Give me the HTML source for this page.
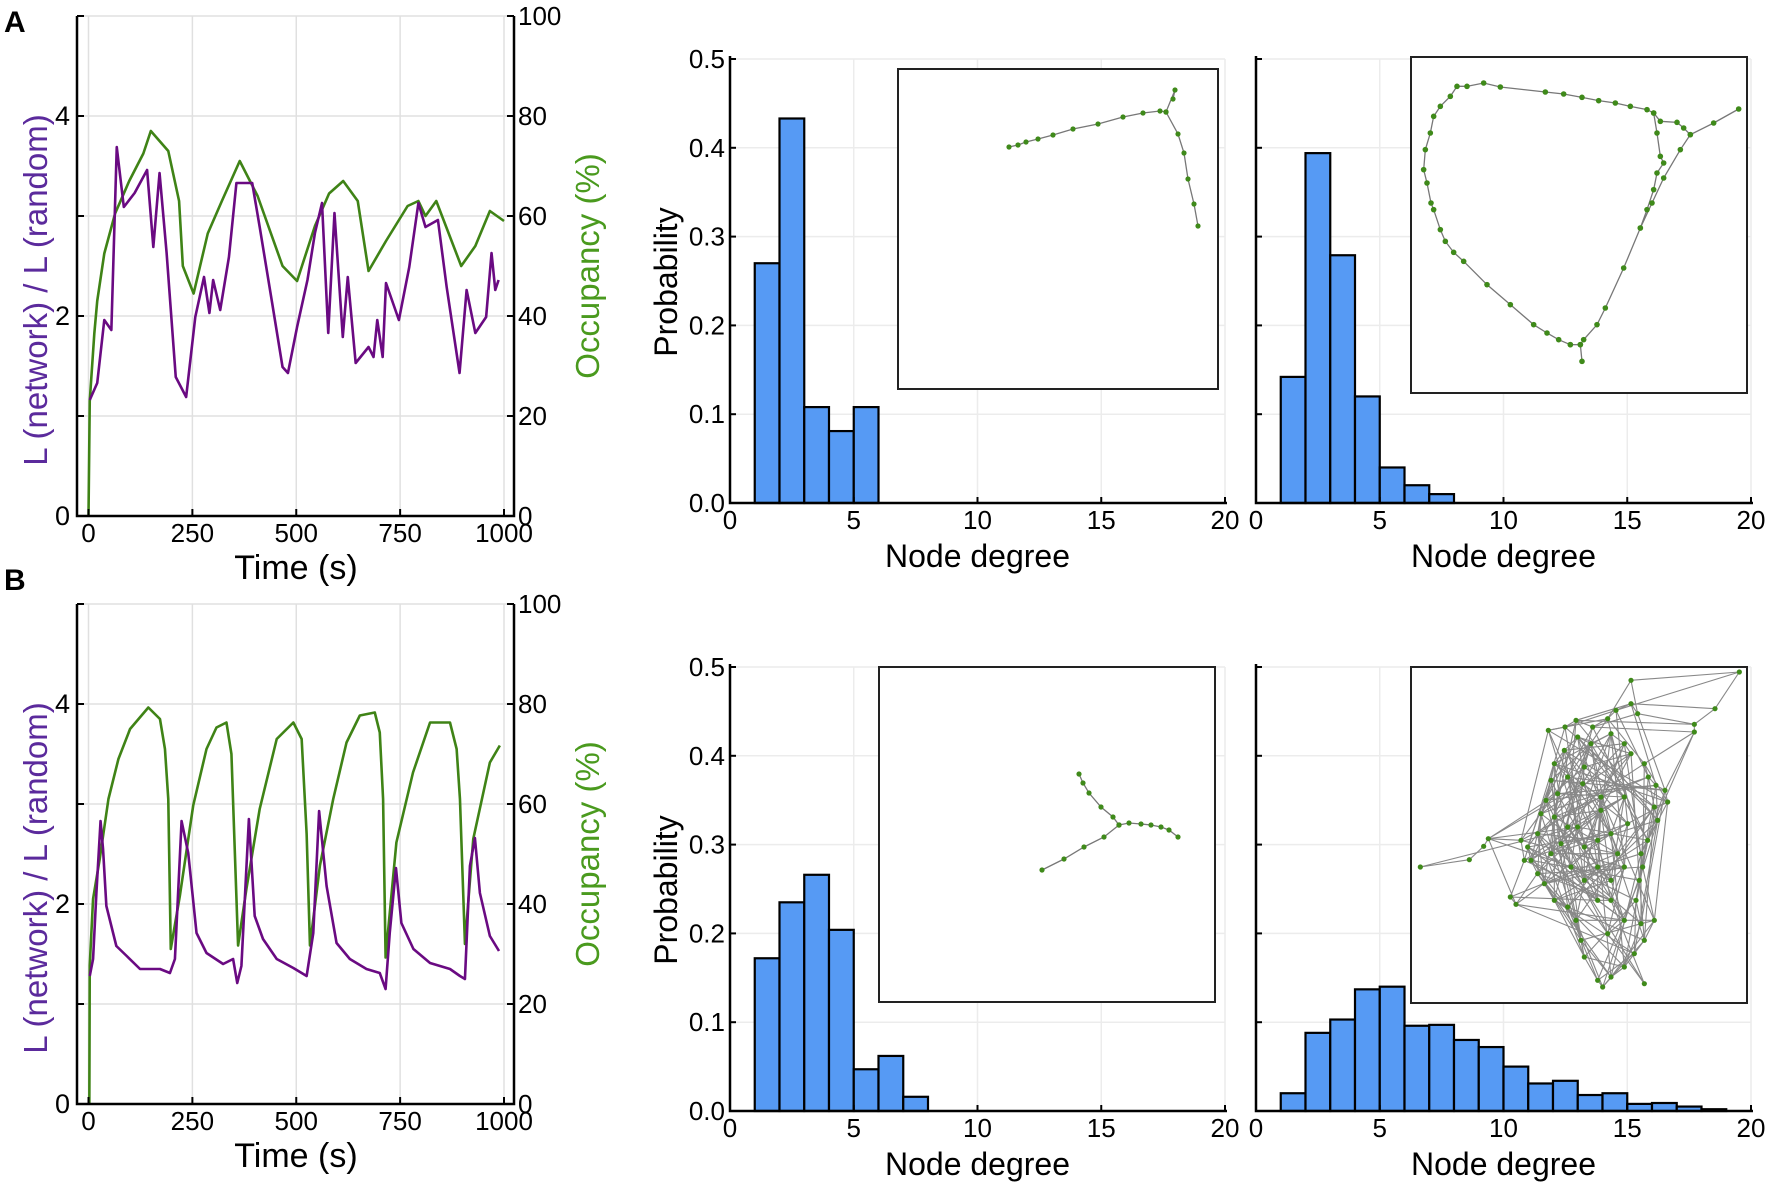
<!DOCTYPE html>
<html><head><meta charset="utf-8"><style>
html,body{margin:0;padding:0;background:#fff;}
svg{display:block;font-family:"Liberation Sans","DejaVu Sans",sans-serif;}
</style></head><body>
<svg id="fig" width="1772" height="1187" viewBox="0 0 1772 1187" xmlns="http://www.w3.org/2000/svg">
<text x="4" y="32" font-size="30" font-weight="bold">A</text>
<text x="4" y="590" font-size="30" font-weight="bold">B</text>
</svg>
<script>
// ---------- Time series data ----------
const timeA_purple = [3,21,38,55,68,85,111,141,156,171,188,210,235,257,278,291,300,317,338,356,394,412,442,467,480,502,527,545,562,577,592,612,624,643,674,686,695,708,716,747,772,794,811,841,862,893,910,931,957,970,979,987];
const valA_purple = [1.16,1.33,1.96,1.86,3.69,3.09,3.23,3.46,2.69,3.43,2.63,1.39,1.19,1.99,2.39,2.03,2.36,2.06,2.59,3.33,3.33,2.89,2.13,1.49,1.43,1.89,2.36,2.83,3.13,1.83,3.03,1.79,2.39,1.53,1.69,1.59,1.96,1.59,2.33,1.96,2.49,3.13,2.89,2.96,2.29,1.43,2.26,1.83,1.99,2.63,2.26,2.36];
const timeA_green = [0,3,14,21,38,64,98,132,150,192,218,227,253,287,321,364,407,467,502,545,579,613,648,674,716,768,794,811,837,897,931,966,1000];
const valA_green = [0,23,36.5,43,52.5,60.5,67,72.5,77,73,63,50,44.5,56.5,63,71,64,50,47,58,64.5,67,63,49,55,62,63,60,63,50,54,61,59];
const timeB_purple = [3,11,19,29,35,43,67,92,124,172,196,208,224,240,260,284,324,348,358,368,386,400,420,453,493,525,541,555,573,597,629,669,701,715,725,740,753,782,822,870,894,906,918,930,942,966,988];
const valB_purple = [1.28,1.45,2.11,2.83,2.55,1.98,1.58,1.48,1.35,1.35,1.31,1.45,2.83,2.51,1.71,1.51,1.40,1.45,1.21,1.38,2.85,1.88,1.65,1.45,1.36,1.28,1.71,2.93,2.18,1.61,1.45,1.35,1.31,1.15,1.71,2.36,1.81,1.55,1.41,1.35,1.28,1.25,2.38,2.66,2.11,1.68,1.53];
const timeB_green = [2,3,11,27,48,72,100,144,172,184,192,198,220,252,284,308,332,344,360,380,412,453,493,513,525,533,557,589,621,653,689,701,709,715,741,781,822,870,886,894,906,926,966,990];
const valB_green = [0,27.7,41,49,61,69,75,79.3,77,71,61,31,41.7,59.7,71,75.3,76.3,70,31.7,43,59,73,76.3,73,54,31.7,47.7,61,72.3,77.7,78.3,74.3,61,29.3,52.3,66.3,76.3,76.3,71,61,32,53,68.3,71.7];
const timeTicks = [0,250,500,750,1000];
const leftTicks = [0,2,4];
const rightTicks = [0,20,40,60,80,100];

// ---------- Histogram data ----------
const binStartsA1 = [1,2,3,4,5];
const probA1 = [0.27,0.433,0.108,0.081,0.108];
const binStartsA2 = [1,2,3,4,5,6,7];
const probA2 = [0.142,0.394,0.279,0.12,0.04,0.02,0.01];
const binStartsB1 = [1,2,3,4,5,6,7];
const probB1 = [0.172,0.235,0.266,0.204,0.047,0.062,0.016];
const binStartsB2 = [1,2,3,4,5,6,7,8,9,10,11,12,13,14,15,16,17,18];
const probB2 = [0.02,0.088,0.103,0.137,0.14,0.096,0.097,0.08,0.072,0.05,0.031,0.034,0.018,0.02,0.008,0.009,0.005,0.002];
const degTicks = [0,5,10,15,20];
const probTicks = [0.0,0.1,0.2,0.3,0.4,0.5];

const NS = "http://www.w3.org/2000/svg";
const svg = document.getElementById('fig');
function mk(tag, attrs, parent){
  const e = document.createElementNS(NS, tag);
  for (const k in attrs) e.setAttribute(k, attrs[k]);
  (parent||svg).appendChild(e);
  return e;
}

function timePlot(oy, tp, vp, tg, vg, key){
  const g = mk('g', {});
  
  
  const X = t => 88.5 + t * 0.4155;
  const YL = v => oy + 516 - v * 100;
  const YR = p => oy + 516 - p * 5;
  timeTicks.forEach(t => { const l = mk('line', {x1:X(t), x2:X(t), y1:oy+16, y2:oy+516, stroke:'#e0e0e0', 'stroke-width':1.5}, g);
      });
  rightTicks.forEach(p => { const l = mk('line', {x1:77, x2:514, y1:YR(p), y2:YR(p), stroke:'#e0e0e0', 'stroke-width':1.5}, g);
      });
  const gp = mk('polyline', {points: tg.map((t,i)=>X(t)+','+YR(vg[i])).join(' '), fill:'none', stroke:'#3f8316', 'stroke-width':2.6, 'stroke-linejoin':'round'}, g);
   
  const pp = mk('polyline', {points: tp.map((t,i)=>X(t)+','+YL(vp[i])).join(' '), fill:'none', stroke:'#6a0a82', 'stroke-width':2.6, 'stroke-linejoin':'round'}, g);
   
  const ax = mk('path', {d:`M77,${oy+16} V${oy+516} H514 V${oy+16}`, fill:'none', stroke:'#000', 'stroke-width':2.5}, g);
   
  timeTicks.forEach(t => {
    mk('line', {x1:X(t), x2:X(t), y1:oy+516, y2:oy+509, stroke:'#000', 'stroke-width':2}, g);
    const tx = mk('text', {x:X(t), y:oy+542, 'font-size':26, 'text-anchor':'middle'}, g);
    tx.textContent = t;
     
  });
  [0,1,2,3,4,5].forEach(v => mk('line', {x1:77, x2:84, y1:YL(v), y2:YL(v), stroke:'#000', 'stroke-width':2}, g));
  leftTicks.forEach(v => {
    const tx = mk('text', {x:70, y:YL(v)+9, 'font-size':27, 'text-anchor':'end'}, g);
    tx.textContent = v;
     
  });
  rightTicks.forEach(p => {
    mk('line', {x1:514, x2:507, y1:YR(p), y2:YR(p), stroke:'#000', 'stroke-width':2}, g);
    const tx = mk('text', {x:518, y:YR(p)+9, 'font-size':26}, g);
    tx.textContent = p;
     
  });
  const xl = mk('text', {x:296, y:oy+579, 'font-size':34, 'text-anchor':'middle'}, g);
  xl.textContent = 'Time (s)';
   
  const yl = mk('text', {x:0, y:0, 'font-size':33, 'text-anchor':'middle', fill:'#5b2a9c', transform:`translate(47,${oy+290}) rotate(-90)`}, g);
  yl.textContent = 'L (network) / L (random)';
   
  const yr = mk('text', {x:0, y:0, 'font-size':33, 'text-anchor':'middle', fill:'#4a9a1e', transform:`translate(599,${oy+266}) rotate(-90)`}, g);
  yr.textContent = 'Occupancy (%)';
   
}

function histPlot(x0, oy, bins, probs, showY, inset, key){
  const g = mk('g', {});
  
  
  const X = d => x0 + d * 24.75;
  const Y = p => oy + 503 - p * 888;
  degTicks.slice(1).forEach(d => mk('line', {x1:X(d), x2:X(d), y1:Y(0.5), y2:Y(0), stroke:'#ececec', 'stroke-width':1.5}, g));
  probTicks.slice(1).forEach(p => mk('line', {x1:x0, x2:X(20), y1:Y(p), y2:Y(p), stroke:'#ececec', 'stroke-width':1.5}, g));
  bins.forEach((b,i) => {
    const r = mk('rect', {x:X(b), y:Y(probs[i]), width:X(b+1)-X(b), height:Y(0)-Y(probs[i]), fill:'#569af4', stroke:'#000', 'stroke-width':2.2}, g);
    
    
  });
  const ax = mk('path', {d:`M${x0},${Y(0.5)-3} V${Y(0)} H${X(20)+2}`, fill:'none', stroke:'#000', 'stroke-width':2.5}, g);
   
  degTicks.forEach(d => {
    mk('line', {x1:X(d), x2:X(d), y1:Y(0), y2:Y(0)-6, stroke:'#000', 'stroke-width':2}, g);
    const tx = mk('text', {x:X(d), y:oy+529, 'font-size':26, 'text-anchor':'middle'}, g);
    tx.textContent = d;
     
  });
  probTicks.forEach(p => {
    mk('line', {x1:x0, x2:x0+6, y1:Y(p), y2:Y(p), stroke:'#000', 'stroke-width':2}, g);
    if (showY) {
      const tx = mk('text', {x:x0-5, y:Y(p)+9, 'font-size':26, 'text-anchor':'end'}, g);
      tx.textContent = p.toFixed(1);
       
    }
  });
  const xl = mk('text', {x:X(10), y:oy+567, 'font-size':32, 'text-anchor':'middle'}, g);
  xl.textContent = 'Node degree';
   
  if (showY) {
    const yl = mk('text', {x:0, y:0, 'font-size':32, 'text-anchor':'middle', transform:`translate(677,${oy+282}) rotate(-90)`}, g);
    yl.textContent = 'Probability';
     
  }
  const ig = mk('g', {}, g);
  
  
  const b = mk('rect', {x:inset.x, y:inset.y, width:inset.w, height:inset.h, fill:'#fff', stroke:'#222', 'stroke-width':2}, ig);
   
  inset.draw(ig, inset.x, inset.y);
}

function net(ig, ox, oy, paths, r, sc){
  paths.forEach(pts => {
    mk('polyline', {points: pts.map(p => (ox+p[0]*sc)+','+(oy+p[1]*sc)).join(' '), fill:'none', stroke:'#777', 'stroke-width':1.3}, ig);
  });
  paths.forEach(pts => pts.forEach(p => mk('circle', {cx:ox+p[0]*sc, cy:oy+p[1]*sc, r:r, fill:'#3f8a1a'}, ig)));
}

const netA1 = [
  [[111,78],[120,76],[128,73],[140,70],[155,66],[175,60],[200,55],[225,48],[245,44],[262,42],[268,43]],
  [[268,43],[277,21],[275,30]],
  [[268,43],[280,65],[286,84],[290,110],[296,135],[300,157]]
];
const netA2 = [
  [[983,156],[908,198],[838,233],[808,278],[758,363],[723,438],[688,513],[638,633],[583,753],[558,803],[518,848],[508,863],[513,913]],
  [[478,863],[443,848],[408,828],[368,803],[298,743],[228,683],[158,613],[128,586],[103,553],[88,518],[68,458],[60,438],[48,378],[38,338],[43,278],[58,228],[68,178],[88,148],[118,118],[138,88],[168,88],[218,78],[268,90],[403,105],[458,111],[513,121],[563,131],[613,138],[658,148],[708,158],[728,168],[748,193],[798,196],[818,213],[838,233]],
  [[728,168],[738,228],[748,298],[758,318],[738,348],[728,398],[708,458],[688,513]],
  [[508,863],[478,863]]
];
const netB1 = [
  [[200,107],[204,116],[210,126],[222,140],[234,150],[240,158]],
  [[240,158],[250,156],[262,157],[272,158],[282,160],[290,163],[299,170]],
  [[240,158],[225,170],[205,180],[185,192],[163,203]]
];
const nodesB2 = [[28,600],[175,578],[218,538],[232,515],[330,520],[340,580],[298,690],[315,712],[412,190],[462,180],[495,160],[545,180],[590,155],[615,130],[660,110],[680,140],[660,40],[985,15],[912,125],[850,172],[850,195],[700,290],[712,330],[735,355],[762,370],[770,405],[730,420],[740,460],[710,520],[690,560],[695,600],[685,640],[675,700],[690,770],[730,760],[700,820],[670,860],[640,900],[600,930],[575,960],[560,940],[520,870],[510,820],[495,760],[470,720],[430,700],[400,650],[380,620],[360,580],[350,540],[380,500],[390,440],[405,400],[420,340],[430,290],[460,250],[500,210],[540,230],[600,200],[640,230],[660,260],[520,300],[515,350],[570,390],[570,430],[640,390],[600,500],[560,520],[520,540],[470,480],[450,530],[480,600],[520,640],[560,600],[600,640],[640,600],[600,700],[560,700],[640,760],[590,800],[700,950],[430,450],[440,380],[470,330],[650,470],[620,560],[420,560],[500,480]];

function drawB2(ig, ox, oy){
  const n = nodesB2.length, sc = 1/3;
  const P = i => [ox + nodesB2[i][0]*sc, oy + nodesB2[i][1]*sc];
  for (let i = 0; i < n; i++){
    [1,4,9,17,29].forEach(k => {
      const j = (i + k) % n;
      const a = P(i), b = P(j);
      if (Math.hypot(a[0]-b[0], a[1]-b[1]) > 140 && !(i<3||j<3)) return;
      if ((i<3||j<3) && k>1) return;
      if (i>=16 && i<=19 && k>1 && j!==i+1) return;
      mk('line', {x1:a[0], y1:a[1], x2:b[0], y2:b[1], stroke:'#888', 'stroke-width':1.1}, ig);
    });
  }
  for (let i = 0; i < n; i++){ const a = P(i); mk('circle', {cx:a[0], cy:a[1], r:2.6, fill:'#3f8a1a'}, ig); }
}

timePlot(0, timeA_purple, valA_purple, timeA_green, valA_green, 'a');
timePlot(588, timeB_purple, valB_purple, timeB_green, valB_green, 'b');
histPlot(730, 0, binStartsA1, probA1, true, {x:898, y:69, w:320, h:320, draw:(g,x,y)=>net(g,x,y,netA1,2.6,1)}, 'a-left');
histPlot(1256, 0, binStartsA2, probA2, false, {x:1411, y:57, w:336, h:336, draw:(g,x,y)=>net(g,x,y,netA2,2.8,1/3)}, 'a-right');
histPlot(730, 608, binStartsB1, probB1, true, {x:879, y:667, w:336, h:335, draw:(g,x,y)=>net(g,x,y,netB1,2.6,1)}, 'b-left');
histPlot(1256, 608, binStartsB2, probB2, false, {x:1411, y:667, w:336, h:336, draw:drawB2}, 'b-right');
</script>
</body></html>
